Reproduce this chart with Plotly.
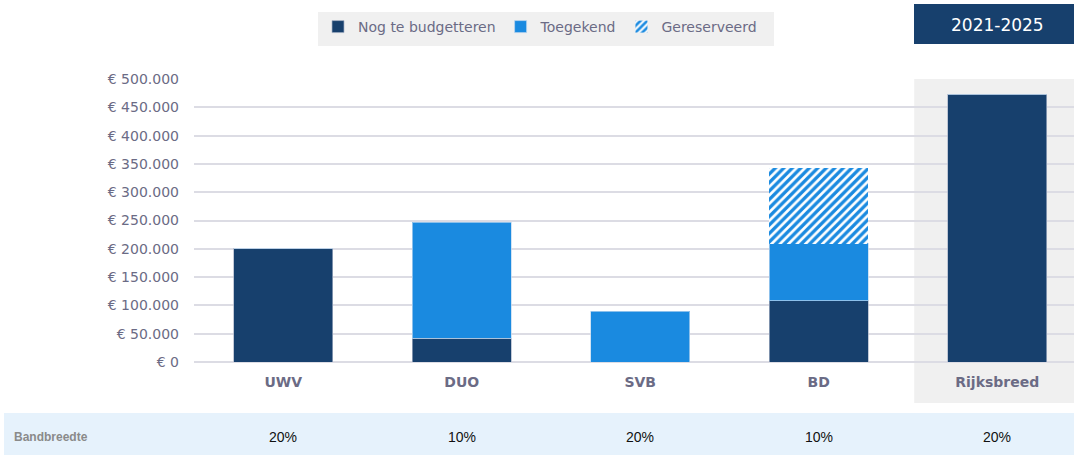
import plotly.graph_objects as go

categories = ["UWV", "DUO", "SVB", "BD", "Rijksbreed"]
nog_te_budgetteren = [200000, 42000, 0, 108000, 473000]
toegekend = [0, 205000, 90000, 101000, 0]
gereserveerd = [0, 0, 0, 133000, 0]
bandbreedte = ["20%", "10%", "20%", "10%", "20%"]
tick_vals = [0, 50000, 100000, 150000, 200000, 250000, 300000, 350000, 400000, 450000, 500000]
tick_text = ["€ 0", "€ 50.000", "€ 100.000", "€ 150.000", "€ 200.000", "€ 250.000",
             "€ 300.000", "€ 350.000", "€ 400.000", "€ 450.000", "€ 500.000"]
period = "2021-2025"

DARK = "#17406D"
BLUE = "#1A8AE0"
TXT = "#6B6B85"
FONT = "DejaVu Sans, Verdana, sans-serif"
NARROW = "Liberation Sans Narrow, Liberation Sans, Arial, sans-serif"

fig = go.Figure()
fig.add_trace(go.Bar(x=categories, y=nog_te_budgetteren, name="Nog te budgetteren",
                     marker=dict(color=DARK, line=dict(color="rgba(170,180,200,0.7)", width=1))))
fig.add_trace(go.Bar(x=categories, y=toegekend, name="Toegekend",
                     marker=dict(color=BLUE, line=dict(color="rgba(190,215,240,0.7)", width=1))))
fig.add_trace(go.Bar(x=categories, y=gereserveerd, name="Gereserveerd",
                     marker=dict(color="white", line=dict(width=0),
                                 pattern=dict(shape="/", fgcolor=BLUE, bgcolor="white",
                                              fgopacity=1, size=6, solidity=0.55))))

H_PLOT = 362 - 79

shapes = [
    dict(type="rect", xref="x", yref="paper", x0=3.535, x1=4.6, y0=-(403 - 362) / H_PLOT, y1=1.0,
         fillcolor="#F0F0F0", line=dict(width=0), layer="below"),
    dict(type="rect", xref="paper", yref="paper", x0=(318 - 194) / 880, x1=(774 - 194) / 880,
         y0=(362 - 46) / H_PLOT, y1=(362 - 12) / H_PLOT,
         fillcolor="#F0F0F0", line=dict(width=0), layer="below"),
    dict(type="rect", xref="paper", yref="paper", x0=(914 - 194) / 880, x1=(1074 - 194) / 880,
         y0=(362 - 44) / H_PLOT, y1=(362 - 4) / H_PLOT,
         fillcolor=DARK, line=dict(width=0), layer="below"),
    dict(type="rect", xref="paper", yref="paper", x0=(4 - 194) / 880, x1=(1074 - 194) / 880,
         y0=(362 - 455) / H_PLOT, y1=(362 - 413) / H_PLOT,
         fillcolor="#E6F2FC", line=dict(width=0), layer="below"),
]

annotations = [
    dict(text=period, xref="paper", yref="paper", x=(997 - 194) / 880, y=(362 - 25) / H_PLOT,
         showarrow=False, xanchor="center", yanchor="middle",
         font=dict(family=FONT, size=17, color="white")),
    dict(text="<b>Bandbreedte</b>", xref="paper", yref="paper", x=(12 - 194) / 880,
         y=(362 - 437) / H_PLOT, showarrow=False, xanchor="left", yanchor="middle",
         font=dict(family=NARROW, size=12, color="#8A8A8A")),
]
for c, b in zip(categories, bandbreedte):
    annotations.append(dict(text=b, xref="x", yref="paper", x=c, y=(362 - 437) / H_PLOT,
                            showarrow=False, xanchor="center", yanchor="middle",
                            font=dict(family=NARROW, size=14, color="#111111")))

fig.update_layout(
    width=1074, height=455,
    margin=dict(l=194, r=0, t=79, b=93),
    barmode="stack", bargap=0.445,
    paper_bgcolor="white", plot_bgcolor="rgba(0,0,0,0)",
    font=dict(family=FONT, color=TXT),
    showlegend=True,
    legend=dict(orientation="h", x=(318 - 194) / 880, y=(362 - 27) / H_PLOT,
                xanchor="left", yanchor="middle", bgcolor="rgba(0,0,0,0)",
                font=dict(family=FONT, size=14, color=TXT), itemwidth=30,
                traceorder="normal"),
    shapes=shapes, annotations=annotations,
    xaxis=dict(range=[-0.5, 4.43], showgrid=False, zeroline=False, showline=False,
               tickfont=dict(family=FONT, size=14, color=TXT), ticks="",
               tickvals=categories, ticktext=["<b>%s</b>" % c for c in categories],
               ticklabelstandoff=10),
    yaxis=dict(range=[0, 500000], tickvals=tick_vals, ticktext=tick_text,
               showgrid=True, gridcolor="#DCDCE4", gridwidth=1.5,
               zeroline=True, zerolinecolor="#DCDCE4", zerolinewidth=1.5,
               tickfont=dict(family=FONT, size=14, color=TXT), ticks="",
               ticklabelstandoff=14),
)

fig.write_html("out.html", config={"displayModeBar": False},
               post_script="document.body.style.margin='0';")
